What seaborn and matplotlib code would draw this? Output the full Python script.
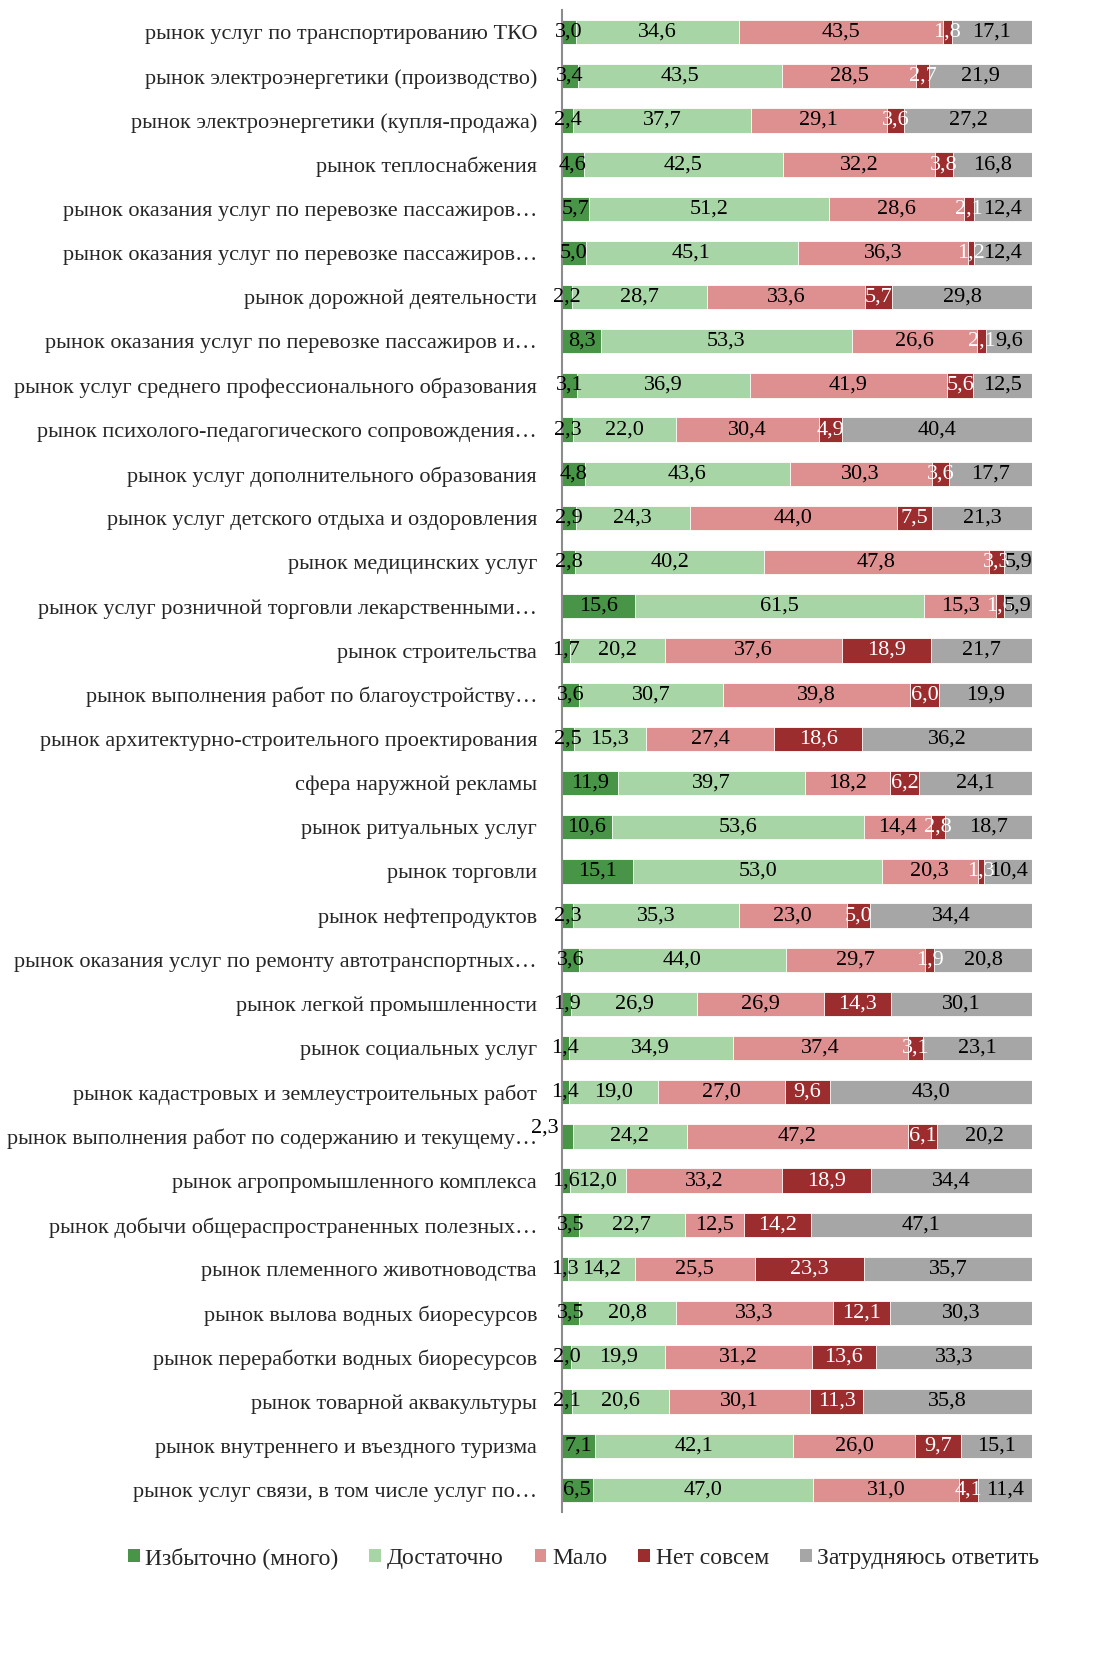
import numpy as np
import pandas as pd
import seaborn as sns
import matplotlib.pyplot as plt
from matplotlib.patches import Patch

# categories, top to bottom
categories = [
    "рынок услуг по транспортированию ТКО",
    "рынок электроэнергетики (производство)",
    "рынок электроэнергетики (купля-продажа)",
    "рынок теплоснабжения",
    "рынок оказания услуг по перевозке пассажиров…",
    "рынок оказания услуг по перевозке пассажиров…",
    "рынок дорожной деятельности",
    "рынок оказания услуг по перевозке пассажиров и…",
    "рынок услуг среднего профессионального образования",
    "рынок психолого-педагогического сопровождения…",
    "рынок услуг дополнительного образования",
    "рынок услуг детского отдыха и оздоровления",
    "рынок медицинских услуг",
    "рынок услуг розничной торговли лекарственными…",
    "рынок строительства",
    "рынок выполнения работ по благоустройству…",
    "рынок архитектурно-строительного проектирования",
    "сфера наружной рекламы",
    "рынок ритуальных услуг",
    "рынок торговли",
    "рынок нефтепродуктов",
    "рынок оказания услуг по ремонту автотранспортных…",
    "рынок легкой промышленности",
    "рынок социальных услуг",
    "рынок кадастровых и землеустроительных работ",
    "рынок выполнения работ по содержанию и текущему…",
    "рынок агропромышленного комплекса",
    "рынок добычи общераспространенных полезных…",
    "рынок племенного животноводства",
    "рынок вылова водных биоресурсов",
    "рынок переработки водных биоресурсов",
    "рынок товарной аквакультуры",
    "рынок внутреннего и въездного туризма",
    "рынок услуг связи, в том числе услуг по…",
]

series_names = ["Избыточно (много)", "Достаточно", "Мало", "Нет совсем", "Затрудняюсь ответить"]

izbytochno = [3.0, 3.4, 2.4, 4.6, 5.7, 5.0, 2.2, 8.3, 3.1, 2.3, 4.8, 2.9, 2.8, 15.6, 1.7, 3.6, 2.5,
              11.9, 10.6, 15.1, 2.3, 3.6, 1.9, 1.4, 1.4, 2.3, 1.6, 3.5, 1.3, 3.5, 2.0, 2.1, 7.1, 6.5]
dostatochno = [34.6, 43.5, 37.7, 42.5, 51.2, 45.1, 28.7, 53.3, 36.9, 22.0, 43.6, 24.3, 40.2, 61.5, 20.2,
               30.7, 15.3, 39.7, 53.6, 53.0, 35.3, 44.0, 26.9, 34.9, 19.0, 24.2, 12.0, 22.7, 14.2, 20.8,
               19.9, 20.6, 42.1, 47.0]
malo = [43.5, 28.5, 29.1, 32.2, 28.6, 36.3, 33.6, 26.6, 41.9, 30.4, 30.3, 44.0, 47.8, 15.3, 37.6, 39.8,
        27.4, 18.2, 14.4, 20.3, 23.0, 29.7, 26.9, 37.4, 27.0, 47.2, 33.2, 12.5, 25.5, 33.3, 31.2, 30.1,
        26.0, 31.0]
net_sovsem = [1.8, 2.7, 3.6, 3.8, 2.1, 1.2, 5.7, 2.1, 5.6, 4.9, 3.6, 7.5, 3.3, 1.6, 18.9, 6.0, 18.6,
              6.2, 2.8, 1.3, 5.0, 1.9, 14.3, 3.1, 9.6, 6.1, 18.9, 14.2, 23.3, 12.1, 13.6, 11.3, 9.7, 4.1]
zatrudnyayus = [17.1, 21.9, 27.2, 16.8, 12.4, 12.4, 29.8, 9.6, 12.5, 40.4, 17.7, 21.3, 5.9, 5.9, 21.7,
                19.9, 36.2, 24.1, 18.7, 10.4, 34.4, 20.8, 30.1, 23.1, 43.0, 20.2, 34.4, 47.1, 35.7, 30.3,
                33.3, 35.8, 15.1, 11.4]

colors = ["#489547", "#a8d5a5", "#de8f8f", "#9b2d2f", "#a6a6a6"]
text_colors = ["black", "black", "black", "white", "black"]

series = [izbytochno, dostatochno, malo, net_sovsem, zatrudnyayus]

# unique row keys, since some labels repeat
row_keys = [f"r{i}" for i in range(len(categories))]
df = pd.DataFrame({name: vals for name, vals in zip(series_names, series)})
df["key"] = row_keys
cum = df[series_names].cumsum(axis=1)

sns.set_style("white")
plt.rcParams['font.family'] = ['Liberation Serif', 'DejaVu Serif']

fig = plt.figure(figsize=(10.95, 16.62), dpi=100)
ax = fig.add_axes([0.5133, 0.0903, 0.4292, 0.9037])

# draw cumulative totals from the outermost layer inward
for k in range(len(series_names) - 1, -1, -1):
    sns.barplot(x=cum[series_names[k]], y=df["key"], color=colors[k], orient='h',
                width=0.55, ax=ax, saturation=1, edgecolor='white', linewidth=0.6)

# value labels centred in each segment (one label sits off its bar, as in the source)
for k, name in enumerate(series_names):
    left = cum[name] - df[name]
    for i, v in enumerate(df[name]):
        off = (-16, 6) if (k == 0 and i == 25) else (0, 0)
        ax.annotate(f"{v:.1f}".replace('.', ','), (left[i] + v / 2, i), xytext=off,
                    textcoords='offset points', ha='center', va='center',
                    fontsize=16, color=text_colors[k])

ax.set_xlim(0, 100)
ax.set_ylim(len(categories) - 0.5, -0.5)
ax.set_yticks(range(len(categories)))
ax.set_yticklabels(categories, fontsize=16)
ax.tick_params(axis='y', length=0, pad=18)
ax.set_xticks([])
ax.set_xlabel('')
ax.set_ylabel('')
for s in ['top', 'right', 'bottom']:
    ax.spines[s].set_visible(False)
ax.spines['left'].set_color('#8c8c8c')
ax.spines['left'].set_linewidth(1.5)

handles = [Patch(facecolor=c, edgecolor='none') for c in colors]
fig.legend(handles, series_names, loc='center', bbox_to_anchor=(0.533, 0.0626), ncol=5,
           frameon=False, fontsize=17, handlelength=0.5, handleheight=0.5, handletextpad=0.25,
           columnspacing=1.3)

fig.savefig('out.png', dpi=100)
